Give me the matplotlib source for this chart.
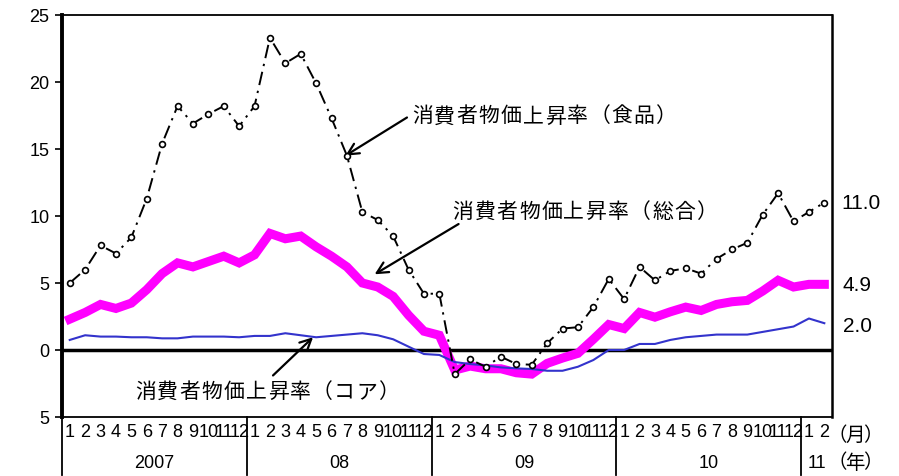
import matplotlib
matplotlib.use('Agg')
from matplotlib import pyplot as plt
from matplotlib import transforms

plt.rcParams['font.family'] = ['Liberation Sans', 'Noto Sans CJK JP', 'DejaVu Sans']

# 2007/1 - 2011/2, monthly (%)
food = [5.0, 6.0, 7.8, 7.2, 8.4, 11.3, 15.4, 18.2, 16.9, 17.6, 18.2, 16.7,
        18.2, 23.3, 21.4, 22.1, 19.9, 17.3, 14.5, 10.3, 9.7, 8.5, 6.0, 4.2,
        4.2, -1.8, -0.7, -1.25, -0.5, -1.05, -1.1, 0.5, 1.6, 1.7, 3.2, 5.3,
        3.8, 6.2, 5.2, 5.9, 6.1, 5.7, 6.8, 7.5, 8.0, 10.1, 11.7, 9.6,
        10.3, 11.0]
overall = [2.3, 2.8, 3.4, 3.1, 3.5, 4.5, 5.7, 6.5, 6.2, 6.6, 7.0, 6.5,
           7.1, 8.7, 8.3, 8.5, 7.7, 7.0, 6.2, 5.0, 4.7, 4.0, 2.6, 1.4,
           1.1, -1.5, -1.2, -1.4, -1.4, -1.7, -1.8, -1.0, -0.6, -0.25, 0.8, 1.9,
           1.6, 2.8, 2.45, 2.85, 3.2, 2.95, 3.4, 3.6, 3.7, 4.4, 5.2, 4.7,
           4.9, 4.9]
core = [0.75, 1.1, 1.0, 1.0, 0.95, 0.95, 0.87, 0.87, 1.0, 1.0, 1.0, 0.95,
        1.05, 1.05, 1.25, 1.1, 0.95, 1.05, 1.15, 1.25, 1.1, 0.8, 0.25, -0.3,
        -0.37, -0.9, -1.05, -1.15, -1.3, -1.37, -1.42, -1.55, -1.55, -1.25, -0.75, 0.0,
        0.0, 0.45, 0.45, 0.75, 0.95, 1.05, 1.15, 1.15, 1.15, 1.35, 1.55, 1.75,
        2.35, 2.0]

months = [str(m) for m in range(1, 13)] * 4 + ['1', '2']
years = ['2007', '08', '09', '10', '11']
year_len = [12, 12, 12, 12, 2]
yticks = [-5, 0, 5, 10, 15, 20, 25]
ytick_labels = ['5', '0', '5', '10', '15', '20', '25']

names = ['消費者物価上昇率（食品）', '消費者物価上昇率（総合）', '消費者物価上昇率（コア）']
end_labels = ['11.0', '4.9', '2.0']

x = list(range(len(food)))

fig = plt.figure(figsize=(8.99, 4.77), dpi=100)
ax = fig.add_axes([0.069, 0.1237, 0.8565, 0.8428])


def spaced_text(x0, y0, s, pitch, transform, **kw):
    # one glyph per fixed-width cell (pitch in pixels), starting at x0
    for i, ch in enumerate(s):
        off = transforms.ScaledTranslation((i + 0.5) * pitch / 100, 0,
                                           fig.dpi_scale_trans)
        ax.text(x0, y0, ch, transform=transform + off, ha='center',
                va='center', clip_on=False, **kw)


ax.axhline(0, color='black', lw=2.5, zorder=1.5)
ax.plot(x, overall, color='#ff00ff', lw=6.5, solid_joinstyle='miter', zorder=2)
ax.plot(x, core, color='#3333cc', lw=1.5, zorder=3)
ax.plot(x, food, color='black', lw=1.4, dashes=(7, 3, 1.2, 3), marker='o',
        ms=4.2, mfc='white', mec='black', mew=1.2, zorder=4)

ax.set_xlim(-0.5, len(x) - 0.5)
ax.set_ylim(-5, 25)
ax.set_yticks(yticks)
ax.set_yticklabels(ytick_labels, fontsize=13)
ax.tick_params(axis='y', direction='out', length=5, width=1.2, pad=4)

ax.set_xticks(x)
ax.set_xticklabels(months, fontsize=13)
ax.tick_params(axis='x', length=0, pad=4)

ax.spines['left'].set_linewidth(2.8)
ax.spines['right'].set_linewidth(1.8)
ax.spines['top'].set_linewidth(1.3)
ax.spines['bottom'].set_linewidth(1.3)

# year row under the month labels
trans = transforms.blended_transform_factory(ax.transData, ax.transAxes)
start = -0.5
for yr, n in zip(years, year_len):
    ax.plot([start, start], [0, -0.145], color='black', lw=1.3,
            transform=trans, clip_on=False)
    ax.text(start + n / 2, -0.112, yr, transform=trans, ha='center', va='center',
            fontsize=13)
    start += n
spaced_text(len(x) - 0.75, -0.043, '（月）', 18, trans, fontsize=14,
            family=['Noto Sans CJK JP'])
spaced_text(len(x) - 0.75, -0.112, '（年）', 18, trans, fontsize=14,
            family=['Noto Sans CJK JP'])

# labels with arrows
arrow = dict(arrowstyle='->', lw=1.6, color='black', mutation_scale=20,
             shrinkA=0, shrinkB=0)
jp = dict(fontsize=15, family=['Noto Sans CJK JP'])
ax.annotate('', xy=(17.9, 14.5), xytext=(21.9, 17.35), arrowprops=arrow)
spaced_text(22.2, 17.5, names[0], 22.1, ax.transData, **jp)
ax.annotate('', xy=(19.8, 5.65), xytext=(25.25, 9.4), arrowprops=arrow)
spaced_text(24.8, 10.4, names[1], 22.2, ax.transData, **jp)
ax.annotate('', xy=(15.8, 0.95), xytext=(13.2, -1.9), arrowprops=arrow)
spaced_text(4.2, -3.05, names[2], 22.1, ax.transData, **jp)

# latest values at the right edge
for lab, yv, xv in zip(end_labels, [11.0, 4.9, 1.8], [50.1, 50.2, 50.2]):
    ax.text(xv, yv, lab, ha='left', va='center', fontsize=15, clip_on=False)

plt.savefig('out.png', dpi=100)
